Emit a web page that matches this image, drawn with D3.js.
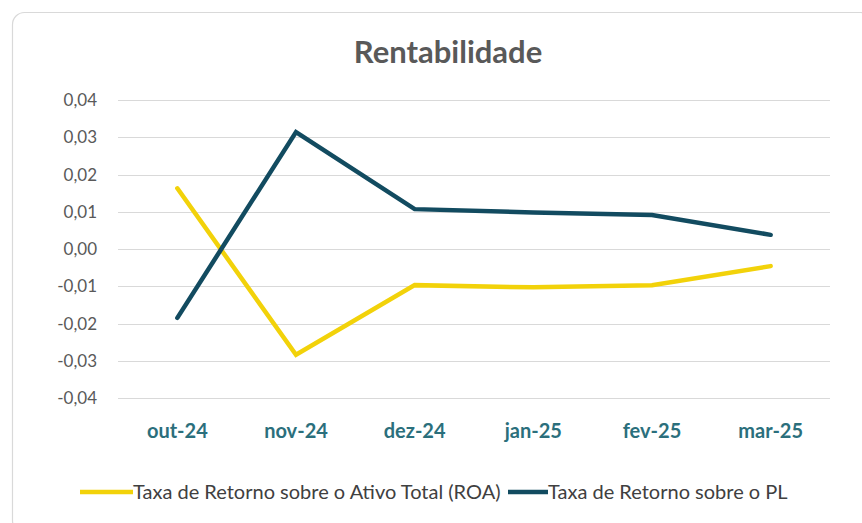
<!DOCTYPE html>
<html>
<head>
<meta charset="utf-8">
<script src="https://cdn.jsdelivr.net/npm/d3@7"></script>
<style>
	body { margin: 0; background: #fff; }
	svg { display: block; font-family: Lato, "Open Sans", sans-serif; }
</style>
</head>
<body>
<script>
	// dados
	const meses = ["out-24", "nov-24", "dez-24", "jan-25", "fev-25", "mar-25"];
	const roa = [0.0163, -0.0284, -0.0097, -0.0103, -0.0097, -0.0046];
	const retornoPL = [-0.0185, 0.0314, 0.0107, 0.0098, 0.0091, 0.0038];
	const ticksY = [-0.04, -0.03, -0.02, -0.01, 0, 0.01, 0.02, 0.03, 0.04];
	const series = [
		{ nome: "Taxa de Retorno sobre o Ativo Total (ROA)", valores: roa, cor: "#f2d20a" },
		{ nome: "Taxa de Retorno sobre o PL", valores: retornoPL, cor: "#124b60" }
	];

	const w = 862,
		h = 523;

	const svg = d3.select("body").append("svg")
		.attr("width", w)
		.attr("height", h);

	// moldura
	svg.append("rect")
		.attr("x", 12.5).attr("y", 12.5)
		.attr("width", 860).attr("height", 520)
		.attr("rx", 12)
		.attr("fill", "#fff")
		.attr("stroke", "#d9d9d9")
		.attr("stroke-width", 1.2);

	// titulo
	svg.append("text")
		.attr("x", 448).attr("y", 63)
		.attr("text-anchor", "middle")
		.attr("font-size", "31px")
		.attr("font-weight", "bold")
		.attr("fill", "#595959")
		.text("Rentabilidade");

	const xScale = d3.scaleBand()
		.domain(meses)
		.range([118, 830]);

	const yScale = d3.scaleLinear()
		.domain([-0.04, 0.04])
		.range([398, 100]);

	const fmt = v => d3.format(".2f")(v).replace(".", ",").replace("−", "-");

	// grade
	svg.append("g")
		.selectAll("line")
		.data(ticksY)
		.enter()
		.append("line")
		.attr("x1", 118).attr("x2", 830)
		.attr("y1", d => Math.round(yScale(d)) + 0.5)
		.attr("y2", d => Math.round(yScale(d)) + 0.5)
		.attr("stroke", "#d9d9d9")
		.attr("stroke-width", 1);

	// eixo y
	svg.append("g")
		.selectAll("text")
		.data(ticksY)
		.enter()
		.append("text")
		.attr("x", 97)
		.attr("y", d => yScale(d) + 6)
		.attr("text-anchor", "end")
		.attr("font-size", "17px")
		.attr("fill", "#595959")
		.text(d => fmt(d));

	// eixo x
	svg.append("g")
		.selectAll("text")
		.data(meses)
		.enter()
		.append("text")
		.attr("x", d => xScale(d) + xScale.bandwidth() / 2)
		.attr("y", 438)
		.attr("text-anchor", "middle")
		.attr("font-size", "20px")
		.attr("font-weight", "bold")
		.attr("fill", "#2b6f7c")
		.text(d => d);

	// linhas
	const line = d3.line()
		.x((d, i) => xScale(meses[i]) + xScale.bandwidth() / 2)
		.y(d => yScale(d));

	svg.append("g")
		.selectAll("path")
		.data(series)
		.enter()
		.append("path")
		.attr("d", d => line(d.valores))
		.attr("fill", "none")
		.attr("stroke", d => d.cor)
		.attr("stroke-width", 4.5)
		.attr("stroke-linejoin", "miter")
		.attr("stroke-linecap", "round");

	// legenda
	const legendX = [80, 508];
	const leg = svg.append("g")
		.selectAll("g")
		.data(series)
		.enter()
		.append("g")
		.attr("transform", (d, i) => `translate(${legendX[i]},492)`);

	leg.append("line")
		.attr("x1", 0).attr("x2", d => d === series[0] ? 53 : 40)
		.attr("stroke", d => d.cor)
		.attr("stroke-width", 4.5);

	leg.append("text")
		.attr("x", d => d === series[0] ? 53 : 40)
		.attr("y", 7)
		.attr("font-size", "20px")
		.attr("fill", "#404040")
		.text(d => d.nome);
</script>
</body>
</html>
